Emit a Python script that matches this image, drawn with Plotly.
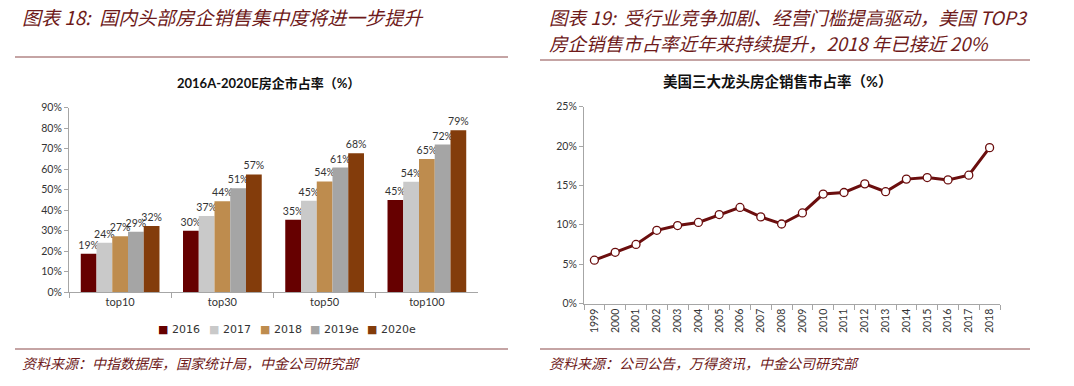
import plotly.graph_objects as go

# ---- data: left chart (bars) ----
groups = ["top10", "top30", "top50", "top100"]
series_names = ["2016", "2017", "2018", "2019e", "2020e"]
v2016 = [18.7, 29.9, 35.3, 44.9]
v2017 = [24.0, 37.1, 44.6, 53.8]
v2018 = [27.2, 44.3, 54.0, 65.0]
v2019e = [29.4, 50.7, 60.8, 72.0]
v2020e = [32.2, 57.4, 67.8, 79.0]
bar_colors = ["#660000", "#C9C9C9", "#BE8C4E", "#A5A5A5", "#833C0B"]

# ---- data: right chart (line) ----
years = [str(y) for y in range(1999, 2019)]
us_share = [5.5, 6.5, 7.5, 9.3, 9.9, 10.3, 11.3, 12.2, 11.0, 10.1,
            11.5, 13.9, 14.1, 15.2, 14.2, 15.8, 16.0, 15.7, 16.3, 19.8]

FONT = "Lato, 'Noto Sans CJK SC', sans-serif"
CJK = "'Noto Sans CJK SC', sans-serif"
RED = "#6E1A1A"
AX = "#A6A6A6"
TXT = "#333333"

fig = go.Figure()
for name, vals, col in zip(series_names, [v2016, v2017, v2018, v2019e, v2020e], bar_colors):
    fig.add_trace(go.Bar(
        x=groups, y=vals, name=name, marker=dict(color=col, line=dict(width=0)),
        text=[f"{round(v)}%" for v in vals], textposition="outside",
        constraintext="none", cliponaxis=False, showlegend=False,
        textfont=dict(family=FONT, size=10.5, color=TXT),
        xaxis="x", yaxis="y", hoverinfo="skip"))

fig.add_trace(go.Scatter(
    x=years, y=us_share, mode="lines+markers", showlegend=False,
    line=dict(color="#6B0E0E", width=3),
    marker=dict(color="white", size=8, line=dict(color="#6B0E0E", width=1.3)),
    xaxis="x2", yaxis="y2", hoverinfo="skip"))

W, H = 1074, 386
def px(v): return v / W
def py(v): return 1 - v / H

fig.update_layout(
    template="none",
    width=W, height=H, margin=dict(l=0, r=0, t=0, b=0, autoexpand=False),
    paper_bgcolor="white", plot_bgcolor="white",
    barmode="group", bargap=0.23, bargroupgap=0,
    font=dict(family=FONT, size=11, color=TXT),
    showlegend=False,
    xaxis=dict(domain=[px(69), px(478)], anchor="y", type="category", automargin=False,
               showline=True, linecolor=AX, linewidth=1,
               ticks="outside", tickson="boundaries", ticklen=5, tickcolor=AX,
               tickfont=dict(size=11, color=TXT), showgrid=False),
    yaxis=dict(domain=[py(292), py(107.7)], anchor="x", range=[0, 90], dtick=10,
               automargin=False,
               ticksuffix="%", showline=True, linecolor=AX, linewidth=1,
               ticks="outside", ticklen=4, tickcolor=AX, showgrid=False,
               zeroline=False, tickfont=dict(size=10.5, color=TXT)),
    xaxis2=dict(domain=[px(584), px(1000)], anchor="y2", type="category", automargin=False,
                range=[-0.5, 19.5], tickangle=-90,
                showline=True, linecolor=AX, linewidth=1,
                ticks="outside", tickson="boundaries", ticklen=5, tickcolor=AX,
                tickfont=dict(size=10.5, color=TXT), showgrid=False),
    yaxis2=dict(domain=[py(303.5), py(106.7)], anchor="x2", range=[0, 25], dtick=5,
                automargin=False,
                ticksuffix="%", showline=True, linecolor=AX, linewidth=1,
                ticks="outside", ticklen=4, tickcolor=AX, showgrid=False,
                zeroline=False, tickfont=dict(size=10.5, color=TXT)),
)

annotations = [
    dict(text="<i>图表 18:  国内头部房企销售集中度将进一步提升</i>", x=px(20), y=py(16),
         xanchor="left", yanchor="middle", font=dict(family=CJK, size=19, color=RED)),
    dict(text="<i>图表 19:  受行业竞争加剧、经营门槛提高驱动，美国 TOP3</i>", x=px(547), y=py(17),
         xanchor="left", yanchor="middle", font=dict(family=CJK, size=18.5, color=RED)),
    dict(text="<i>房企销售市占率近年来持续提升，2018 年已接近 20%</i>", x=px(547), y=py(43),
         xanchor="left", yanchor="middle", font=dict(family=CJK, size=18.5, color=RED)),
    dict(text="<b>2016A-2020E房企市占率（%）</b>", x=px(268), y=py(83),
         xanchor="center", yanchor="middle", font=dict(family=FONT, size=13, color="#111")),
    dict(text="<b>美国三大龙头房企销售市占率（%）</b>", x=px(777), y=py(82),
         xanchor="center", yanchor="middle", font=dict(family=FONT, size=14.5, color="#111")),
    dict(text="<i>资料来源：中指数据库，国家统计局，中金公司研究部</i>", x=px(20), y=py(363),
         xanchor="left", yanchor="middle", font=dict(family=CJK, size=14, color=RED)),
    dict(text="<i>资料来源：公司公告，万得资讯，中金公司研究部</i>", x=px(547), y=py(363),
         xanchor="left", yanchor="middle", font=dict(family=CJK, size=14, color=RED)),
]
# manual legend (compact, like the reference)
legend_x = [156, 207, 258, 308, 365]
for name, col, lx in zip(series_names, bar_colors, legend_x):
    annotations.append(dict(
        text=f'<span style="color:{col}">■</span> {name}', x=px(lx), y=py(329),
        xanchor="left", yanchor="middle", font=dict(family="'DejaVu Sans', sans-serif", size=11, color=TXT)))
for a in annotations:
    a.update(xref="paper", yref="paper", showarrow=False)
fig.update_layout(annotations=annotations)

rule = dict(color="#8B4A4A", width=1.2)
shapes = [
    dict(type="line", xref="paper", yref="paper", x0=px(15), x1=px(508), y0=py(57), y1=py(57), line=rule),
    dict(type="line", xref="paper", yref="paper", x0=px(540), x1=px(1030), y0=py(60), y1=py(60), line=rule),
    dict(type="line", xref="paper", yref="paper", x0=px(15), x1=px(508), y0=py(349), y1=py(349), line=rule),
    dict(type="line", xref="paper", yref="paper", x0=px(540), x1=px(1030), y0=py(349), y1=py(349), line=rule),
]
fig.update_layout(shapes=shapes)

fig.write_html("out.html", config={"displayModeBar": False},
               post_script="document.body.style.margin='0';document.body.style.overflow='hidden';")
